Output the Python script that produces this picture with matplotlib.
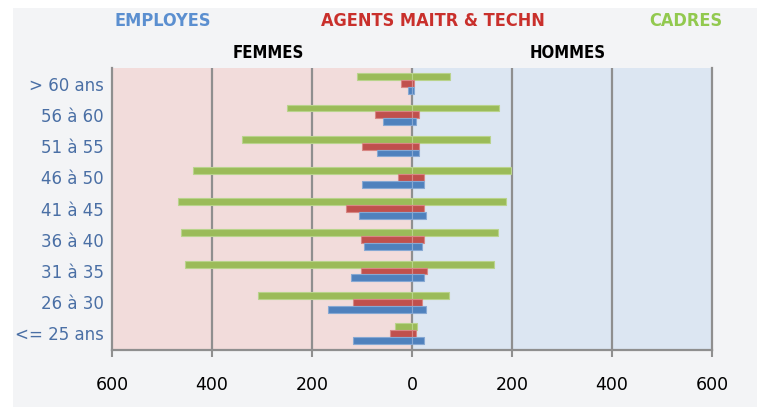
import matplotlib
matplotlib.use("Agg")
import matplotlib.pyplot as plt
from matplotlib.patches import Rectangle
import numpy as np

categories = ["<= 25 ans", "26 à 30", "31 à 35", "36 à 40", "41 à 45",
              "46 à 50", "51 à 55", "56 à 60", "> 60 ans"]
employes_femmes = [119, 168, 123, 97, 107, 100, 71, 58, 9]
employes_hommes = [23, 27, 23, 20, 27, 23, 14, 7, 3]
agents_femmes = [45, 119, 103, 103, 132, 28, 100, 74, 23]
agents_hommes = [7, 20, 30, 23, 23, 23, 14, 13, 3]
cadres_femmes = [34, 309, 455, 462, 469, 439, 341, 250, 111]
cadres_hommes = [10, 73, 164, 171, 187, 197, 155, 174, 76]
x_ticks = [-600, -400, -200, 0, 200, 400, 600]
x_ticklabels = ["600", "400", "200", "0", "200", "400", "600"]

W, H = 757, 407
fig = plt.figure(figsize=(W / 100, H / 100), dpi=100, facecolor="white")
fig.patches.append(Rectangle((13 / W, 0), 1 - 13 / W, 1 - 8 / H,
                             transform=fig.transFigure, facecolor="#f3f4f6",
                             edgecolor="none", zorder=-10))

ax = fig.add_axes([112 / W, (H - 350) / H, 600 / W, (350 - 68) / H])
ax.set_facecolor("none")

grid_c = "#8f8f8f"
ax.axvspan(-600, 0, color="#f2dcdb", zorder=0, lw=0)
ax.axvspan(0, 600, color="#dce6f2", zorder=0, lw=0)
for xv in [-400, -200, 0, 200, 400]:
    ax.axvline(xv, color=grid_c, lw=1.6, zorder=1)

y = np.arange(len(categories))
h = 0.22
series = [
    (cadres_femmes, cadres_hommes, h, "#9bbb59", "#b9d38c"),
    (agents_femmes, agents_hommes, 0, "#c0504d", "#d88784"),
    (employes_femmes, employes_hommes, -h, "#4f81bd", "#86a8d3"),
]
for fem, hom, off, col, ec in series:
    ax.barh(y + off, -np.array(fem), height=h, color=col, edgecolor=ec, lw=0.8, zorder=3)
    ax.barh(y + off, np.array(hom), height=h, color=col, edgecolor=ec, lw=0.8, zorder=3)

ax.set_xlim(-600, 600)
ax.set_ylim(-0.53, 8.5)
ax.set_xticks(x_ticks)
ax.set_xticklabels(x_ticklabels, fontsize=12.5, color="black")
ax.set_yticks(y)
ax.set_yticklabels(categories, fontsize=12, color="#4a6fa5")
ax.tick_params(axis="x", length=5, width=1.5, color=grid_c, pad=14)
ax.tick_params(axis="y", length=0, pad=6)
for s in ["top"]:
    ax.spines[s].set_visible(False)
for s in ["left", "right", "bottom"]:
    ax.spines[s].set_color(grid_c)
    ax.spines[s].set_linewidth(1.6)

tkw = dict(fontweight="bold", fontstretch="condensed", ha="center", va="center")
fig.text(163 / W, 1 - 21 / H, "EMPLOYES", color="#5b8fd0", fontsize=13, **tkw)
fig.text(433 / W, 1 - 21 / H, "AGENTS MAITR & TECHN", color="#c9302c", fontsize=13, **tkw)
fig.text(686 / W, 1 - 21 / H, "CADRES", color="#92c94f", fontsize=13, **tkw)
fig.text(268 / W, 1 - 53 / H, "FEMMES", color="black", fontsize=12, **tkw)
fig.text(568 / W, 1 - 53 / H, "HOMMES", color="black", fontsize=12, **tkw)

fig.savefig("out.png", dpi=100, facecolor="white")
